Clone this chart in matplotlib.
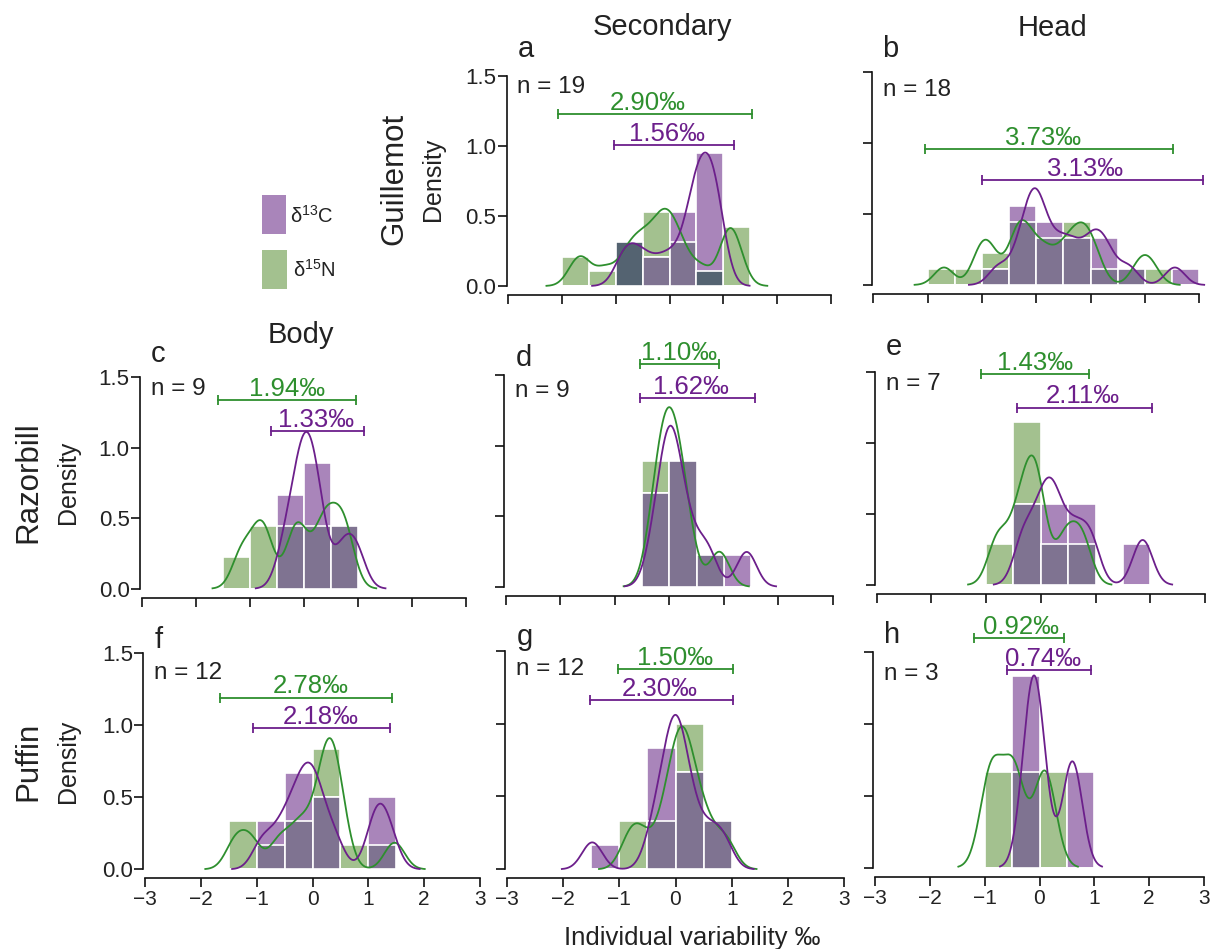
import numpy as np
import matplotlib
matplotlib.use("Agg")
import matplotlib.pyplot as plt
from matplotlib.patches import Rectangle

plt.rcParams['font.family'] = ['Liberation Sans', 'DejaVu Sans']
plt.rcParams['mathtext.fontset'] = 'custom'
plt.rcParams['mathtext.rm'] = 'Liberation Sans'
plt.rcParams['mathtext.it'] = 'Liberation Sans:italic'

# ---------------- data (individual variability, per mille) ----------------
panels = ['a', 'b', 'c', 'd', 'e', 'f', 'g', 'h']

d15N_a = [-1.75, -1.58, -1.2, -0.85, -0.7, -0.55, -0.45, -0.3, -0.2, -0.1, -0.05,
          0.05, 0.15, 0.3, 0.6, 1.03, 1.1, 1.16, 1.28]
d13C_a = [-0.9, -0.75, -0.6, -0.4, -0.15, 0.05, 0.25, 0.4, 0.45, 0.48, 0.55, 0.6,
          0.65, 0.7, 0.75, 0.8, 0.85, 0.9, 0.95]
d15N_b = [-1.7, -1.05, -0.95, -0.8, -0.42, -0.33, -0.25, -0.15, 0.05, 0.2, 0.45,
          0.6, 0.75, 0.85, 0.95, 1.1, 1.9, 2.1]
d13C_b = [-0.7, -0.35, -0.22, -0.1, -0.05, -0.02, 0.05, 0.12, 0.3, 0.45, 0.6, 0.75,
          0.97, 1.08, 1.2, 1.35, 1.7, 2.55]
d15N_c = [-1.15, -0.85, -0.7, -0.2, -0.05, 0.3, 0.45, 0.65, 0.8]
d13C_c = [-0.35, -0.15, -0.05, 0.02, 0.1, 0.2, 0.3, 0.72, 0.97]
d15N_d = [-0.3, -0.18, -0.1, -0.03, 0.04, 0.12, 0.2, 0.35, 0.92]
d13C_d = [-0.28, -0.1, -0.03, 0.02, 0.1, 0.2, 0.4, 0.7, 1.42]
d15N_e = [-0.79, -0.45, -0.25, -0.12, -0.02, 0.45, 0.75]
d13C_e = [-0.32, -0.03, 0.15, 0.3, 0.6, 0.9, 1.86]
d15N_f = [-1.38, -1.1, -0.6, -0.3, -0.1, 0.15, 0.22, 0.28, 0.35, 0.42, 0.52, 1.47]
d13C_f = [-0.9, -0.6, -0.4, -0.25, -0.15, -0.05, 0.05, 0.15, 0.4, 1.1, 1.2, 1.38]
d15N_g = [-0.82, -0.6, -0.25, -0.1, 0.02, 0.08, 0.12, 0.18, 0.3, 0.4, 0.6, 0.9]
d13C_g = [-1.48, -0.4, -0.25, -0.12, -0.06, -0.01, 0.04, 0.1, 0.2, 0.35, 0.6, 0.85]
d15N_h = [-0.88, -0.47, 0.1]
d13C_h = [-0.18, -0.02, 0.6]

# range bars and their labels
n15_lo = [-2.07, -2.05, -1.58, -0.54, -1.10, -1.657, -1.03, -1.19]
n15_hi = [1.535, 2.52, 0.97, 0.918, 0.884, 1.418, 1.016, 0.453]
n15_txt = ['2.90‰', '3.73‰', '1.94‰', '1.10‰', '1.43‰', '2.78‰', '1.50‰', '0.92‰']
c13_lo = [-1.03, -0.995, -0.605, -0.54, -0.443, -1.07, -1.52, -0.598]
c13_hi = [1.195, 3.07, 1.117, 1.574, 2.04, 1.388, 1.016, 0.934]
c13_txt = ['1.56‰', '3.13‰', '1.33‰', '1.62‰', '2.11‰', '2.18‰', '2.30‰', '0.74‰']

col_titles = ['Secondary', 'Head', 'Body']
row_titles = ['Guillemot', 'Razorbill', 'Puffin']
x_ticks = [-3, -2, -1, 0, 1, 2, 3]
y_ticks = [0.0, 0.5, 1.0, 1.5]
bin_edges = np.arange(-3.0, 3.01, 0.5)

N15 = dict(zip(panels, [d15N_a, d15N_b, d15N_c, d15N_d, d15N_e, d15N_f, d15N_g, d15N_h]))
C13 = dict(zip(panels, [d13C_a, d13C_b, d13C_c, d13C_d, d13C_e, d13C_f, d13C_g, d13C_h]))

# ---------------- layout / style ----------------
W, H = 1215, 949
XL = (-3.03, 3.2)
pos = {  # pixel of x=-3, x=3, y=0, y=1.5
    'a': (508.3, 830.7, 286.0, 76.0),
    'b': (873.3, 1199.3, 285.0, 71.7),
    'c': (141.7, 466.0, 588.7, 377.3),
    'd': (506.0, 832.7, 586.7, 375.0),
    'e': (876.7, 1205.0, 585.0, 371.7),
    'f': (145.0, 480.0, 869.3, 653.3),
    'g': (506.7, 844.3, 869.3, 650.7),
    'h': (875.0, 1204.0, 867.7, 652.3),
}
letter_y = [1.636, 1.60, 1.61, 1.564, 1.62, 1.54, 1.54, 1.565]
ntext_y = [1.38, 1.326, 1.376, 1.347, 1.37, 1.32, 1.33, 1.31]
n15_y = [1.229, 0.954, 1.339, 1.578, 1.484, 1.192, 1.375, 1.597]
c13_y = [1.007, 0.738, 1.119, 1.335, 1.247, 0.979, 1.162, 1.377]
n15_lx = [-0.40, 0.13, -0.315, 0.17, -0.11, -0.03, 0.0, -0.34]
c13_lx = [-0.055, 0.89, 0.233, 0.40, 0.77, 0.15, -0.28, 0.07]
ylab_panels = ['a', 'c', 'f']
xlab_panels = ['f', 'g', 'h']
dark_bins = {'a': [-1.0, 0.5]}
bw_panel = {'h': 0.2}

GREEN_BAR = '#a3c18f'
PURPLE_BAR = '#a985ba'
OVERLAP = '#7f7391'
DARK = '#546371'
GREEN_LINE = '#2e8f2e'
PURPLE_LINE = '#6c1f8b'
TXT = '#222222'
BW = 0.18


def rect(p):
    xm3, xp3, y0, y15 = p
    ppu = (xp3 - xm3) / 6.0
    left = xm3 + (XL[0] + 3) * ppu
    right = xm3 + (XL[1] + 3) * ppu
    return [left / W, 1 - y0 / H, (right - left) / W, (y0 - y15) / H]


def kde(vals, bw, cut=3, npts=400):
    v = np.asarray(vals, float)
    grid = np.linspace(v.min() - cut * bw, v.max() + cut * bw, npts)
    dens = np.exp(-0.5 * ((grid[:, None] - v[None, :]) / bw) ** 2).sum(1)
    dens /= (len(v) * bw * np.sqrt(2 * np.pi))
    return grid, dens


fig = plt.figure(figsize=(W / 100, H / 100), dpi=100)

for i, p in enumerate(panels):
    ax = fig.add_axes(rect(pos[p]))
    g_vals, c_vals = N15[p], C13[p]
    g_h, _ = np.histogram(g_vals, bins=bin_edges, density=True)
    c_h, _ = np.histogram(c_vals, bins=bin_edges, density=True)
    left = bin_edges[:-1]
    wid = np.diff(bin_edges)
    ov = np.minimum(g_h, c_h)
    ax.bar(left, g_h, width=wid, align='edge', color=GREEN_BAR, edgecolor='white', linewidth=1.2, zorder=1)
    ax.bar(left, c_h, width=wid, align='edge', color=PURPLE_BAR, edgecolor='white', linewidth=1.2, zorder=1.1)
    ov_cols = [DARK if any(abs(l - d) < 1e-6 for d in dark_bins.get(p, [])) else OVERLAP for l in left]
    ax.bar(left, ov, width=wid, align='edge', color=ov_cols, edgecolor='white', linewidth=1.2, zorder=1.2)

    bw = bw_panel.get(p, BW)
    gx, gy = kde(g_vals, bw)
    cx, cy = kde(c_vals, BW)
    ax.plot(gx, gy, color=GREEN_LINE, lw=1.3, zorder=3, clip_on=False)
    ax.plot(cx, cy, color=PURPLE_LINE, lw=1.3, zorder=3, clip_on=False)

    # range bars
    for lo, hi, yy, txt, lx, col in [(n15_lo[i], n15_hi[i], n15_y[i], n15_txt[i], n15_lx[i], GREEN_LINE),
                                     (c13_lo[i], c13_hi[i], c13_y[i], c13_txt[i], c13_lx[i], PURPLE_LINE)]:
        ax.plot([lo, hi], [yy, yy], color=col, lw=1.3, marker='|', markersize=6.5,
                markeredgewidth=1.3, clip_on=False, zorder=4)
        ax.text(lx, yy + 0.03, txt, color=col, fontsize=18.5, ha='center', va='baseline',
                clip_on=False, zorder=4)

    ax.text(-2.83, letter_y[i], p, fontsize=21, color=TXT, ha='left', va='baseline', clip_on=False)
    ax.text(-2.83, ntext_y[i], f"n = {len(c_vals)}", fontsize=17.5, color=TXT,
            ha='left', va='baseline', clip_on=False)

    ax.set_xlim(*XL)
    ax.set_ylim(0, 1.5)
    ax.patch.set_alpha(0)
    for s in ['top', 'right']:
        ax.spines[s].set_visible(False)
    ax.spines['bottom'].set_position(('outward', 6.5))
    ax.spines['bottom'].set_bounds(-3, 3)
    ax.spines['left'].set_bounds(0, 1.5)
    for s in ['bottom', 'left']:
        ax.spines[s].set_linewidth(1.2)
        ax.spines[s].set_color('#111111')
    ax.set_xticks(x_ticks)
    ax.set_yticks(y_ticks)
    ax.tick_params(axis='both', length=6.5, width=1.2, color='#111111', labelcolor=TXT)
    ax.tick_params(axis='x', pad=2, labelsize=15)
    ax.tick_params(axis='y', pad=1, labelsize=16)
    if p not in ylab_panels:
        ax.set_yticklabels([])
    if p not in xlab_panels:
        ax.set_xticklabels([])

# column titles
fig.text(662.5 / W, 1 - 35 / H, col_titles[0], fontsize=21, color=TXT, ha='center', va='baseline')
fig.text(1052 / W, 1 - 36 / H, col_titles[1], fontsize=21, color=TXT, ha='center', va='baseline')
fig.text(301 / W, 1 - 343 / H, col_titles[2], fontsize=21, color=TXT, ha='center', va='baseline')

# row titles and Density labels
for name, rx, dx, cy in [(row_titles[0], 394, 433, 179),
                         (row_titles[1], 28, 68, 482),
                         (row_titles[2], 28, 68, 761)]:
    fig.text(rx / W, 1 - cy / H, name, fontsize=22.5, color=TXT, rotation=90, ha='center', va='center')
    fig.text(dx / W, 1 - cy / H, 'Density', fontsize=18, color=TXT, rotation=90, ha='center', va='center')

# legend
fig.add_artist(Rectangle((262 / W, 1 - 234 / H), 24 / W, 39 / H, transform=fig.transFigure,
                         facecolor=PURPLE_BAR, edgecolor='none'))
fig.add_artist(Rectangle((262 / W, 1 - 289 / H), 25 / W, 39 / H, transform=fig.transFigure,
                         facecolor=GREEN_BAR, edgecolor='none'))
fig.text(290.5 / W, 1 - 223 / H, r'δ$^{\mathregular{13}}$C', fontsize=14.5, color=TXT, ha='left', va='baseline')
fig.text(293 / W, 1 - 277 / H, r'δ$^{\mathregular{15}}$N', fontsize=14.5, color=TXT, ha='left', va='baseline')

# x label
fig.text(692 / W, 1 - 945 / H, 'Individual variability ‰', fontsize=18.5, color=TXT,
         ha='center', va='baseline')

fig.savefig('out.png', dpi=100)
